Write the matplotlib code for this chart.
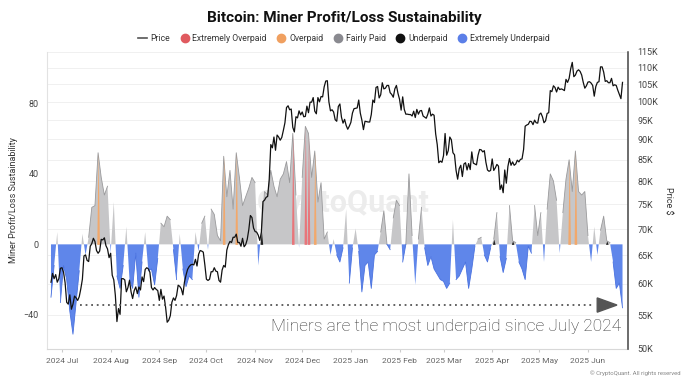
import matplotlib
matplotlib.use("Agg")
from matplotlib import pyplot as plt
from matplotlib.lines import Line2D
from matplotlib.patches import Polygon
from matplotlib.ticker import FixedLocator, NullLocator
import numpy as np
import pandas as pd

plt.rcParams['font.family'] = ['Roboto', 'DejaVu Sans']

# miner profit/loss sustainability, sampled every 2 days from 2024-06-24
osc = np.array([
    -30, -12, 7, -33, -12, -20, -38, -51, -33, -15,
    6, -6, 4, 21, 22, 52, 38, 28, 33, -5,
    24, -18, -25, -12, 10, -20, -25, -5, -30, -10,
    7, -15, -14, -23, -8, 12, 10, 16, 14, -3,
    -20, 6, -14, -24, -18, -20, 7, -4, 12, 16,
    -3, 20, 17, 5, 2, 50, 27, 42, 20, 52,
    38, 22, 27, 32, 38, 35, -12, 8, 30, 28,
    42, 33, 27, 37, 40, 47, 35, 63, 28, -2,
    38, 67, 63, 38, 53, 24, 35, 3, 7, -6,
    3, -6, -10, -2, 20, -22, -2, 9, -4, -27,
    -12, -10, -25, -6, -4, 7, 19, 0, -3, 15,
    25, 22, -10, 0, 40, 5, -23, 3, 21, -2,
    -12, -7, -14, -17, -20, -21, -25, -22, 14, -20,
    -18, -14, -10, -25, -14, -1, 3, 4, -6, -10,
    -2, 3, 18, -7, -16, -8, 22, 2, 1, -10,
    -14, -20, -1, -5, 22, 5, 18, -10, 20, 40,
    36, 25, -5, 18, 37, 48, 30, 53, 30, 28,
    30, 5, -10, 10, -6, 8, 16, 2, 1, -10,
    -25, -22, -36,
], dtype=float)
osc_dates = pd.date_range('2024-06-24', periods=len(osc), freq='2D')

extremely_overpaid = ['2024-11-25', '2024-12-03', '2024-12-05']
overpaid = ['2024-07-24', '2024-10-12', '2024-10-20', '2024-12-09', '2025-05-20', '2025-05-24']
underpaid = ['2024-11-05', '2025-04-02', '2025-04-14', '2025-06-13']

# BTC price (thousand USD), daily from 2024-06-24
price = np.array(
    [60.3, 61.8, 60.9, 61.6, 60.3, 60.9, 62.7]
    + [62.8, 62.0, 60.2, 57.0, 56.7, 58.2, 55.9, 56.7, 58.0, 57.7, 57.3, 57.9, 59.2, 60.8, 64.9, 65.1,
       64.1, 63.9, 66.7, 67.2, 68.2, 67.6, 65.9, 65.4, 65.8, 68.0, 67.9, 68.3, 66.8, 66.2, 64.6]
    + [65.4, 61.5, 60.7, 58.1, 54.0, 56.0, 55.1, 60.9, 60.9, 60.7, 58.7, 59.4, 60.6, 58.7, 57.6, 58.9,
       59.5, 58.4, 59.5, 59.0, 61.2, 60.4, 62.5, 62.8, 62.6, 62.0, 59.4, 59.0, 59.4, 59.1, 58.9]
    + [57.3, 59.1, 57.5, 58.0, 56.2, 53.9, 54.2, 54.9, 57.0, 57.7, 57.3, 58.1, 59.8, 59.6, 59.2, 58.2,
       60.3, 61.5, 62.5, 63.0, 63.3, 63.4, 63.3, 64.3, 63.1, 65.2, 65.9, 65.8, 65.6, 63.3]
    + [60.8, 60.6, 60.8, 62.1, 62.1, 62.8, 62.2, 62.1, 60.6, 60.3, 62.4, 63.2, 62.9, 66.0, 67.0, 67.6,
       67.4, 68.4, 68.4, 69.0, 67.4, 67.4, 66.7, 68.2, 66.6, 67.0, 68.0, 69.9, 72.7, 72.3, 70.2]
    + [69.5, 69.4, 68.8, 67.8, 69.4, 75.6, 75.9, 76.5, 76.7, 80.5, 88.7, 87.9, 90.6, 87.3, 91.1, 90.6,
       89.8, 90.5, 92.3, 94.3, 98.4, 98.9, 97.8, 98.0, 93.1, 91.9, 95.9, 95.6, 97.5, 96.4]
    + [97.2, 95.9, 96.0, 98.8, 97.0, 99.9, 99.9, 101.2, 97.4, 96.7, 101.2, 100.0, 101.5, 101.4, 104.3, 106.0,
       106.1, 100.0, 97.5, 97.8, 97.2, 95.1, 94.7, 98.7, 99.4, 95.8, 94.2, 95.2, 93.6, 92.6, 93.4]
    + [94.4, 96.9, 98.1, 98.2, 98.3, 100.5, 96.9, 95.0, 92.5, 94.7, 94.6, 94.5, 94.5, 96.5, 100.5, 99.8,
       104.1, 104.4, 101.1, 102.0, 105.5, 103.7, 103.9, 104.7, 104.7, 102.6, 102.1, 101.3, 103.7, 104.7, 102.4]
    + [100.7, 97.7, 101.4, 97.9, 96.6, 96.6, 96.5, 96.5, 96.1, 97.4, 95.7, 97.9, 96.6, 97.5, 97.6, 96.1,
       95.8, 95.5, 96.6, 98.3, 96.1, 96.6, 96.3, 91.4, 88.7, 84.3, 84.7, 84.4]
    + [86.0, 91.5, 86.1, 87.2, 90.6, 89.9, 86.7, 86.2, 82.5, 80.5, 82.9, 83.7, 81.1, 84.0, 84.3, 82.6,
       84.1, 82.7, 86.9, 84.2, 84.0, 83.8, 86.1, 87.5, 87.4, 86.9, 87.2, 84.4, 82.6, 82.3, 82.5]
    + [85.2, 82.5, 83.1, 83.9, 83.5, 78.2, 79.2, 77.5, 82.6, 79.6, 83.4, 85.3, 83.7, 84.5, 83.7, 84.0,
       84.9, 84.5, 85.1, 85.2, 87.5, 93.4, 93.7, 93.9, 94.7, 94.6, 93.8, 95.0, 94.3, 94.2]
    + [96.5, 96.9, 95.9, 94.3, 94.8, 96.8, 97.0, 103.2, 102.9, 104.6, 104.1, 102.8, 104.2, 103.5, 103.7, 103.5,
       103.2, 106.5, 105.6, 106.8, 109.7, 111.7, 107.3, 107.8, 109.0, 109.4, 108.9, 107.8, 105.6, 103.9, 104.6]
    + [105.7, 105.8, 105.4, 104.7, 101.6, 104.4, 105.6, 105.8, 110.3, 110.3, 108.7, 105.9, 106.1, 105.5, 105.5,
       106.8, 104.6, 104.9, 104.7, 103.3, 102.1, 100.9, 105.6]
)
price_dates = pd.date_range('2024-06-24', periods=len(price), freq='D')

price_ticks = list(range(50, 116, 5))
osc_ticks = [-40, 0, 40, 80]
month_ticks = pd.date_range('2024-07-01', '2025-06-01', freq='MS')

fig = plt.figure(figsize=(6.88, 3.82), dpi=100)
ax = fig.add_axes([0.0683, 0.0864, 0.8445, 0.7775])
ax2 = ax.twinx()

lo, hi = -59.4, 109.2
ax.set_ylim(lo, hi)
ax.set_xlim(pd.Timestamp('2024-06-21 11:00'), pd.Timestamp('2025-06-26 12:00'))

# faint grid on the price ticks, drawn in oscillator units so it stays behind
for p in price_ticks[1:]:
    frac = (np.log(p) - np.log(50)) / (np.log(115) - np.log(50))
    ax.axhline(lo + frac * (hi - lo), color='#f0f0f0', lw=0.7, zorder=0)

ax.fill_between(osc_dates, 0, osc, where=osc >= 0, interpolate=True, color='#c6c6c8', lw=0, zorder=2)
ax.fill_between(osc_dates, 0, osc, where=osc <= 0, interpolate=True, color='#5f86ea', lw=0, zorder=2)
ax.plot(osc_dates, np.ma.masked_where(osc < 0, osc), color='#9a9a9c', lw=0.6, zorder=3)
ax.plot(osc_dates, np.ma.masked_where(osc > 0, osc), color='#4a72e0', lw=0.6, zorder=3)

half = pd.Timedelta(hours=20)
for days, col in [(overpaid, '#f2a86b'), (extremely_overpaid, '#e8757a'), (underpaid, '#222222')]:
    for d in days:
        k = osc_dates.get_loc(pd.Timestamp(d))
        t = osc_dates[k]
        ax.fill_between([t - half, t, t + half], 0, [0, osc[k], 0], color=col, lw=0, zorder=4)

ax.text(0.51, 0.49, 'CryptoQuant', transform=ax.transAxes, ha='center', va='center',
        fontsize=22, fontweight='bold', color='#ececec', zorder=1)

ax2.plot(price_dates, price, color='#111111', lw=0.9, zorder=5)
ax2.set_yscale('log')
ax2.set_ylim(50, 115)
ax2.yaxis.set_major_locator(FixedLocator(price_ticks))
ax2.yaxis.set_minor_locator(NullLocator())
ax2.set_yticklabels([f'{p}K' for p in price_ticks])
ax2.tick_params(axis='y', length=0, pad=7, labelsize=6.5, labelcolor='#444444')
ax2.set_ylabel('Price $', rotation=270, fontsize=6.5, color='#333333', labelpad=10)

ax.set_yticks(osc_ticks)
ax.tick_params(axis='y', length=0, pad=6, labelsize=6.5, labelcolor='#444444')
ax.set_ylabel('Miner Profit/Loss Sustainability', fontsize=6.5, color='#333333', labelpad=4)
ax.set_xticks(month_ticks)
ax.set_xticklabels([m.strftime('%Y %b') for m in month_ticks])
ax.tick_params(axis='x', length=2.5, color='#cccccc', pad=4, labelsize=6, labelcolor='#666666')

for a in (ax, ax2):
    a.spines['top'].set_visible(False)
ax.spines['right'].set_visible(False)
ax2.spines['left'].set_visible(False)
ax2.spines['bottom'].set_visible(False)
ax.spines['left'].set_color('#e2e2e2')
ax.spines['bottom'].set_color('#d8d8d8')
ax2.spines['right'].set_color('#444444')
ax2.spines['right'].set_linewidth(1.1)

# annotation
ax2.plot([0.057, 0.938], [0.148, 0.148], transform=ax2.transAxes, color='#555555',
         lw=1.3, ls=(0, (1, 2.1)), zorder=6)
ax2.add_patch(Polygon([(0.947, 0.124), (0.947, 0.172), (0.981, 0.148)], closed=True,
                      transform=ax2.transAxes, color='#555555', zorder=6))
ax2.text(0.687, 0.077, 'Miners are the most underpaid since July 2024', transform=ax2.transAxes,
         ha='center', va='center', fontsize=12.5, fontweight='light', color='#333333', zorder=6)

fig.text(0.5, 0.953, 'Bitcoin: Miner Profit/Loss Sustainability', ha='center', va='center',
         fontsize=11, fontweight='bold', color='#111111')

handles = [
    Line2D([], [], color='#555555', lw=1.2),
    Line2D([], [], marker='o', ls='', ms=6, color='#e05a5f'),
    Line2D([], [], marker='o', ls='', ms=6, color='#f0a060'),
    Line2D([], [], marker='o', ls='', ms=6, color='#8a8a90'),
    Line2D([], [], marker='o', ls='', ms=6, color='#111111'),
    Line2D([], [], marker='o', ls='', ms=6, color='#5b7fe8'),
]
labels = ['Price', 'Extremely Overpaid', 'Overpaid', 'Fairly Paid', 'Underpaid', 'Extremely Underpaid']
fig.legend(handles, labels, loc='center', bbox_to_anchor=(0.5, 0.9), ncol=6, frameon=False,
           fontsize=6.2, handlelength=1.0, handletextpad=0.4, columnspacing=1.2,
           labelcolor='#333333')

fig.text(0.99, 0.022, '\u00a9 CryptoQuant. All rights reserved', ha='right', va='center',
         fontsize=4.3, color='#888888')

plt.savefig('out.png', dpi=100)
